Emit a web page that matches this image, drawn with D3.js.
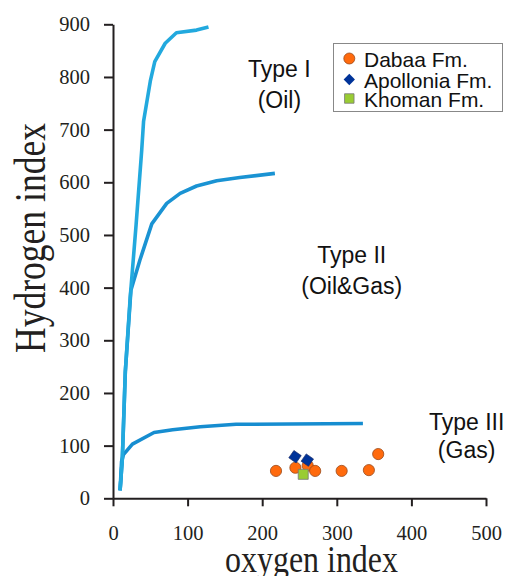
<!DOCTYPE html>
<html>
<head>
<meta charset="utf-8">
<script src="https://cdn.jsdelivr.net/npm/d3@7"></script>
<style>
  html, body { margin: 0; padding: 0; background: #fff; }
  svg { display: block; }
  .serif { font-family: "Liberation Serif", "DejaVu Serif", serif; }
  .sans { font-family: "Liberation Sans", Arial, sans-serif; }
</style>
</head>
<body>
<svg id="chart" width="505" height="576"></svg>
<script>
// ---- data ----
const xTicks = [0, 100, 200, 300, 400, 500];
const yTicks = [0, 100, 200, 300, 400, 500, 600, 700, 800, 900];

const typeICurve = [[9.5,15],[12.5,75],[16.5,240],[23,380],[31,520],[38.5,661],[41,716],[50,792],[56,829],[70,864],[85,884],[112,889],[128,895]];
const typeIICurve = [[9.5,15],[12.5,75],[16.5,240],[24,395],[36,452],[52,521],[72,560],[90,579],[112,593],[139,603],[170,609],[217,617]];
const typeIIICurve = [[9.5,15],[11.5,70],[14,83],[26,103],[55,125],[80,130],[117,136],[165,140.5],[335,142]];

const dabaa = [[218.5,52],[244.5,58],[261,62],[271,52],[306.5,52],[343,53.5],[355.5,84]];
const apollonia = [[244,79],[260.5,72.5]];
const khoman = [[255,45.5]];

const legendLabels = ["Dabaa Fm.", "Apollonia Fm.", "Khoman Fm."];
const typeLabels = [
  {lines: ["Type I", "(Oil)"], ox: 223, hi: 800, gap: 31.5},
  {lines: ["Type II", "(Oil&Gas)"], ox: 320, hi: 447, gap: 31.5},
  {lines: ["Type III", "(Gas)"], ox: 474, hi: 129, gap: 28}
];

// ---- layout ----
const svg = d3.select("#chart");
const x = d3.scaleLinear().domain([0, 500]).range([113, 486]);
const y = d3.scaleLinear().domain([0, 900]).range([498.3, 24.3]);
const axisColor = "#231f20";

// axes
const xAxis = svg.append("g")
  .attr("transform", "translate(0,498.3)")
  .call(d3.axisBottom(x).tickValues(xTicks).tickSize(8).tickSizeOuter(0).tickPadding(19.5));
const yAxis = svg.append("g")
  .attr("transform", "translate(113,0)")
  .call(d3.axisLeft(y).tickValues(yTicks).tickSize(9).tickSizeOuter(0).tickPadding(14));

[xAxis, yAxis].forEach(g => {
  g.attr("font-family", "Liberation Serif").attr("font-size", 20.5);
  g.select(".domain").attr("stroke", axisColor).attr("stroke-width", 2);
  g.selectAll(".tick line").attr("stroke", axisColor).attr("stroke-width", 2);
  g.selectAll(".tick text")
    .attr("fill", axisColor)
    .attr("class", "serif")
    .attr("font-family", "Liberation Serif")
    .attr("font-size", 20.5);
});

// axis titles
svg.append("text")
  .attr("class", "serif")
  .attr("transform", "translate(45,238) rotate(-90)")
  .attr("text-anchor", "middle")
  .attr("textLength", 230)
  .attr("lengthAdjust", "spacingAndGlyphs")
  .attr("font-size", 44)
  .attr("fill", axisColor)
  .text("Hydrogen index");

svg.append("text")
  .attr("class", "serif")
  .attr("x", 311.5).attr("y", 572)
  .attr("text-anchor", "middle")
  .attr("textLength", 173)
  .attr("lengthAdjust", "spacingAndGlyphs")
  .attr("font-size", 38)
  .attr("fill", axisColor)
  .text("oxygen index");

// curves
const line = d3.line().x(d => x(d[0])).y(d => y(d[1]));
const curves = [
  {data: typeIIICurve, color: "#168dd0"},
  {data: typeIICurve, color: "#1a93d3"},
  {data: typeICurve, color: "#22a9de"}
];
svg.append("g").selectAll("path").data(curves).join("path")
  .attr("d", d => line(d.data))
  .attr("fill", "none")
  .attr("stroke", d => d.color)
  .attr("stroke-width", 3.6)
  .attr("stroke-linejoin", "round");

// type labels
const tl = svg.append("g")
  .attr("class", "sans")
  .attr("font-size", 23)
  .attr("fill", "#111");
typeLabels.forEach(t => {
  t.lines.forEach((s, i) => {
    tl.append("text")
      .attr("x", x(t.ox))
      .attr("y", y(t.hi) + i * t.gap)
      .attr("text-anchor", "middle")
      .text(s);
  });
});

// points
const pts = svg.append("g");
pts.selectAll("circle").data(dabaa).join("circle")
  .attr("cx", d => x(d[0])).attr("cy", d => y(d[1]))
  .attr("r", 5.6)
  .attr("fill", "#ff6a0d")
  .attr("stroke", "#9a4a1a").attr("stroke-width", 0.8);

const sq = d3.symbol().type(d3.symbolSquare);
pts.selectAll("path.dia").data(apollonia).join("path")
  .attr("class", "dia")
  .attr("d", sq.size(80)())
  .attr("transform", d => `translate(${x(d[0])},${y(d[1])}) rotate(35)`)
  .attr("fill", "#003399")
  .attr("stroke", "#1a2a66").attr("stroke-width", 0.6);

pts.selectAll("path.sq").data(khoman).join("path")
  .attr("class", "sq")
  .attr("d", sq.size(100)())
  .attr("transform", d => `translate(${x(d[0])},${y(d[1])})`)
  .attr("fill", "#99cc33")
  .attr("stroke", "#777").attr("stroke-width", 0.8);

// legend
const lg = svg.append("g");
lg.append("rect")
  .attr("x", 333.5).attr("y", 43.5).attr("width", 169).attr("height", 68)
  .attr("fill", "#fff").attr("stroke", "#888").attr("stroke-width", 1);
const legendY = [58.5, 79.5, 98.5];
lg.append("circle").attr("cx", 349.3).attr("cy", legendY[0]).attr("r", 5.5)
  .attr("fill", "#ff6a0d").attr("stroke", "#9a4a1a").attr("stroke-width", 0.8);
lg.append("path").attr("d", sq.size(64)())
  .attr("transform", `translate(349.3,${legendY[1]}) rotate(45)`)
  .attr("fill", "#003399");
lg.append("path").attr("d", sq.size(90)())
  .attr("transform", `translate(349.3,${legendY[2]})`)
  .attr("fill", "#99cc33").attr("stroke", "#777").attr("stroke-width", 0.8);
lg.selectAll("text").data(legendLabels).join("text")
  .attr("class", "sans")
  .attr("x", 364)
  .attr("y", (d, i) => legendY[i] + 8)
  .attr("font-size", 21)
  .attr("fill", "#111")
  .text(d => d);
</script>
</body>
</html>
